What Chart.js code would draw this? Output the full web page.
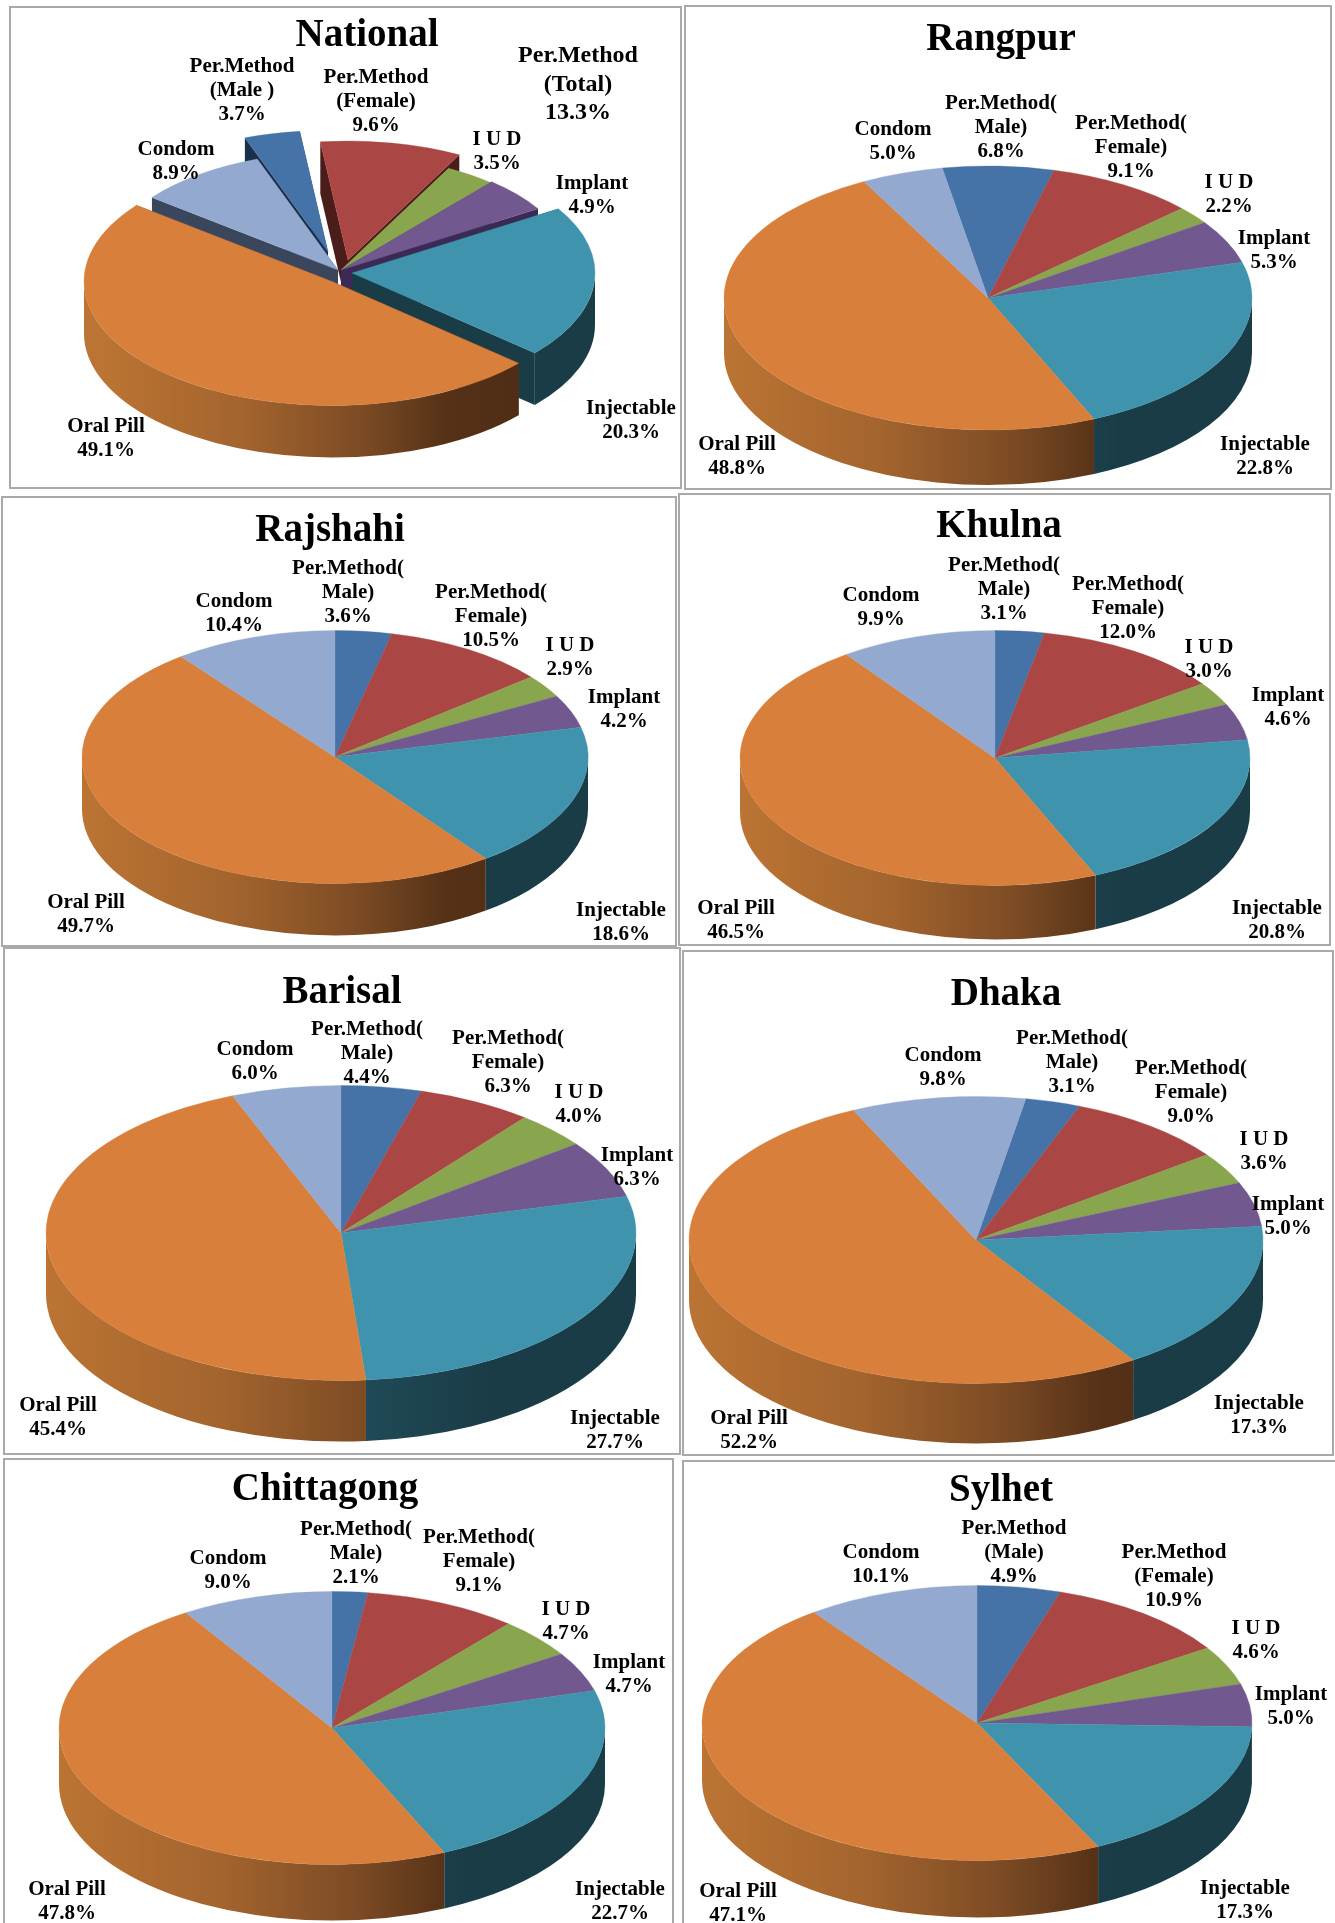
<!DOCTYPE html>
<html>
<head>
<meta charset="utf-8">
<title>Contraceptive method mix</title>
<script src="https://cdn.jsdelivr.net/npm/chart.js@4"></script>
<style>
    html, body { margin: 0; background: #fff; }
    body { position: relative; width: 1335px; height: 1923px; overflow: hidden; }
    canvas { position: absolute; }
    .box { position: absolute; box-sizing: border-box; border: 2px solid #a9a9a9; }
</style>
</head>
<body>
<script>
// Categories, in slice order
const categories = ['Per.Method(\nMale)', 'Per.Method(\nFemale)', 'I U D', 'Implant', 'Injectable', 'Oral Pill', 'Condom'];
const categoriesNational = ['Per.Method\n(Male )', 'Per.Method\n(Female)', 'I U D', 'Implant', 'Injectable', 'Oral Pill', 'Condom'];
const categoriesSylhet = ['Per.Method\n(Male)', 'Per.Method\n(Female)', 'I U D', 'Implant', 'Injectable', 'Oral Pill', 'Condom'];

// Values (%)
const nationalValues = [3.7, 9.6, 3.5, 4.9, 20.3, 49.1, 8.9];
const rangpurValues = [6.8, 9.1, 2.2, 5.3, 22.8, 48.8, 5.0];
const rajshahiValues = [3.6, 10.5, 2.9, 4.2, 18.6, 49.7, 10.4];
const khulnaValues = [3.1, 12.0, 3.0, 4.6, 20.8, 46.5, 9.9];
const barisalValues = [4.4, 6.3, 4.0, 6.3, 27.7, 45.4, 6.0];
const dhakaValues = [3.1, 9.0, 3.6, 5.0, 17.3, 52.2, 9.8];
const chittagongValues = [2.1, 9.1, 4.7, 4.7, 22.7, 47.8, 9.0];
const sylhetValues = [4.9, 10.9, 4.6, 5.0, 17.3, 47.1, 10.1];
const nationalTotalLabel = ['Per.Method', '(Total)', '13.3%'];

// Slice colours
const topColors = ['#4572a7', '#aa4643', '#89a54e', '#71588f', '#3f93ad', '#d87f3c', '#93a9cf'];
const faceColors = ['#1b2f4a', '#4a1c1a', '#55672f', '#3b2a55', '#1a3c47', '#5c3514', '#3a465c'];
const orangeWall = [[0, '#bb7433'], [0.3, '#a3642e'], [0.55, '#7b4a24'], [0.72, '#553117'], [1, '#4a2a13']];
const tealWall = [[0.5, '#214c5a'], [0.75, '#1a3c47'], [1, '#1a3c47']];

// National pie is exploded: screen shift and radius change for each slice
const nationalShift = [[-13, -18], [7, -10], [0, 0], [0, 0], [11, 3], [-9, 11.5], [-3, 0]];
const nationalRadius = [3, -2, -10, -8, 3, 8, -4];

// Layout: box on the page, pie centre and size, title and label anchors (page pixels)
const panels = [
    { title: 'National', titleAt: [367, 33], box: [9, 6, 673, 483], cx: 341, cy: 270, r: 240, depth: 52, rotation: -20,
      cats: categoriesNational, values: nationalValues, shift: nationalShift, radii: nationalRadius,
      labelAt: [[242, 65], [376, 76], [497, 138], [592, 182], [631, 407], [106, 425], [176, 148]] },
    { title: 'Rangpur', titleAt: [1001, 37], box: [684, 5, 648, 485], cx: 988, cy: 298, r: 264, depth: 55, rotation: -10,
      cats: categories, values: rangpurValues,
      labelAt: [[1001, 102], [1131, 122], [1229, 181], [1274, 237], [1265, 443], [737, 443], [893, 128]] },
    { title: 'Rajshahi', titleAt: [330, 528], box: [1, 496, 676, 451], cx: 335, cy: 757, r: 253, depth: 52, rotation: 0,
      cats: categories, values: rajshahiValues,
      labelAt: [[348, 567], [491, 591], [570, 644], [624, 696], [621, 909], [86, 901], [234, 600]] },
    { title: 'Khulna', titleAt: [999, 524], box: [678, 493, 653, 453], cx: 995, cy: 758, r: 255, depth: 54, rotation: 0,
      cats: categories, values: khulnaValues,
      labelAt: [[1004, 564], [1128, 583], [1209, 646], [1288, 694], [1277, 907], [736, 907], [881, 594]] },
    { title: 'Barisal', titleAt: [342, 990], box: [3, 947, 678, 508], cx: 341, cy: 1233, r: 295, depth: 61, rotation: 0,
      cats: categories, values: barisalValues,
      labelAt: [[367, 1028], [508, 1037], [579, 1091], [637, 1154], [615, 1417], [58, 1404], [255, 1048]] },
    { title: 'Dhaka', titleAt: [1006, 992], box: [682, 950, 652, 506], cx: 976, cy: 1240, r: 287, depth: 60, rotation: 10,
      cats: categories, values: dhakaValues,
      labelAt: [[1072, 1037], [1191, 1067], [1264, 1138], [1288, 1203], [1259, 1402], [749, 1417], [943, 1054]] },
    { title: 'Chittagong', titleAt: [325, 1487], box: [3, 1458, 671, 480], cx: 332, cy: 1728, r: 273, depth: 56, rotation: 0,
      cats: categories, values: chittagongValues,
      labelAt: [[356, 1528], [479, 1536], [566, 1608], [629, 1661], [620, 1888], [67, 1888], [228, 1557]] },
    { title: 'Sylhet', titleAt: [1001, 1488], box: [682, 1460, 660, 480], cx: 977, cy: 1723, r: 275, depth: 57, rotation: 0,
      cats: categoriesSylhet, values: sylhetValues,
      labelAt: [[1014, 1527], [1174, 1551], [1256, 1627], [1291, 1693], [1245, 1887], [738, 1890], [881, 1551]] }
];

const squash = 0.5;
const labelFont = 'bold 21px "Liberation Serif"';
const titleFont = 'bold 39px "Liberation Serif"';
const titleNudge = 3;
const labelNudge = 1.5;

function wallGradient(ctx, x, r, stops) {
    const g = ctx.createLinearGradient(x - r, 0, x + r, 0);
    stops.forEach(s => g.addColorStop(s[0], s[1]));
    return g;
}

// Side walls of the disc, drawn under the flattened tops
function drawWalls(chart, panel) {
    const ctx = chart.ctx;
    const area = chart.chartArea;
    const midY = (area.top + area.bottom) / 2;
    const arcs = chart.getDatasetMeta(0).data;
    const d = panel.depth;
    const screenY = y => midY + (y - midY) * squash;

    // cut faces only show when the slices are pulled apart
    if (panel.shift) {
        arcs.forEach((arc, i) => {
            const X = arc.x, Y = screenY(arc.y), R = arc.outerRadius;
            [arc.startAngle, arc.endAngle].forEach(a => {
                const ex = X + R * Math.cos(a), ey = Y + R * squash * Math.sin(a);
                ctx.fillStyle = faceColors[i];
                ctx.beginPath();
                ctx.moveTo(X, Y);
                ctx.lineTo(ex, ey);
                ctx.lineTo(ex, ey + d);
                ctx.lineTo(X, Y + d);
                ctx.closePath();
                ctx.fill();
            });
        });
    }

    arcs.forEach((arc, i) => {
        const X = arc.x, Y = screenY(arc.y), R = arc.outerRadius;
        for (let turn = -1; turn <= 1; turn++) {
            const a = Math.max(arc.startAngle + turn * 2 * Math.PI, 0);
            const b = Math.min(arc.endAngle + turn * 2 * Math.PI, Math.PI);
            if (b <= a) continue;
            if (i === 5) ctx.fillStyle = wallGradient(ctx, area.left + (area.right - area.left) / 2, panel.r, orangeWall);
            else if (i === 4) ctx.fillStyle = wallGradient(ctx, area.left + (area.right - area.left) / 2, panel.r, tealWall);
            else ctx.fillStyle = faceColors[i];
            ctx.beginPath();
            ctx.ellipse(X, Y, R, R * squash, 0, a, b);
            ctx.ellipse(X, Y + d, R, R * squash, 0, b, a, true);
            ctx.closePath();
            ctx.fill();
        }
    });
}

function drawLines(ctx, lines, x, y, step) {
    lines.forEach((line, n) => ctx.fillText(line, x, y + n * step));
}

function piePlugin(panel) {
    const left = panel.box[0], top = panel.box[1];
    return {
        id: 'pie3d',
        afterDatasetUpdate(chart) {
            if (!panel.shift) return;
            chart.getDatasetMeta(0).data.forEach((arc, i) => {
                arc.x += panel.shift[i][0];
                arc.y += panel.shift[i][1] / squash;
                arc.outerRadius += panel.radii[i];
            });
        },
        beforeDatasetsDraw(chart) {
            const ctx = chart.ctx;
            const area = chart.chartArea;
            const midY = (area.top + area.bottom) / 2;
            drawWalls(chart, panel);
            ctx.save();
            ctx.translate(0, midY);
            ctx.scale(1, squash);
            ctx.translate(0, -midY);
        },
        afterDatasetsDraw(chart) {
            chart.ctx.restore();
        },
        afterDraw(chart) {
            const ctx = chart.ctx;
            ctx.save();
            ctx.fillStyle = '#000';
            ctx.textAlign = 'center';
            ctx.textBaseline = 'middle';
            ctx.font = titleFont;
            ctx.fillText(panel.title, panel.titleAt[0] - left, panel.titleAt[1] - top + titleNudge);
            ctx.font = labelFont;
            panel.cats.forEach((cat, i) => {
                const lines = cat.split('\n').concat(panel.values[i].toFixed(1) + '%');
                drawLines(ctx, lines, panel.labelAt[i][0] - left, panel.labelAt[i][1] - top + labelNudge, 24);
            });
            if (panel.title === 'National') {
                ctx.font = 'bold 24px "Liberation Serif"';
                drawLines(ctx, nationalTotalLabel, 578 - left, 56 - top, 28.5);
            }
            ctx.restore();
        }
    };
}

panels.forEach(panel => {
    const [x, y, w, h] = panel.box;
    const box = document.createElement('div');
    box.className = 'box';
    box.style.cssText = `left:${x}px;top:${y}px;width:${w}px;height:${h}px`;
    document.body.appendChild(box);

    const canvas = document.createElement('canvas');
    canvas.width = w;
    canvas.height = h;
    canvas.style.cssText = `left:${x}px;top:${y}px;width:${w}px;height:${h}px`;
    document.body.appendChild(canvas);

    // padding puts the centre of the chart area on the pie centre
    const relX = panel.cx - x, relY = panel.cy - y;
    new Chart(canvas, {
        type: 'pie',
        data: {
            labels: panel.cats,
            datasets: [{
                data: panel.values,
                backgroundColor: topColors,
                borderColor: topColors,
                borderWidth: 0.5,
                clip: false
            }]
        },
        options: {
            responsive: false,
            animation: false,
            rotation: panel.rotation,
            radius: panel.r,
            layout: {
                padding: {
                    left: Math.max(0, 2 * relX - w),
                    right: Math.max(0, w - 2 * relX),
                    top: Math.max(0, 2 * relY - h),
                    bottom: Math.max(0, h - 2 * relY)
                }
            },
            plugins: { legend: { display: false }, tooltip: { enabled: false } }
        },
        plugins: [piePlugin(panel)]
    });
});
</script>
</body>
</html>
